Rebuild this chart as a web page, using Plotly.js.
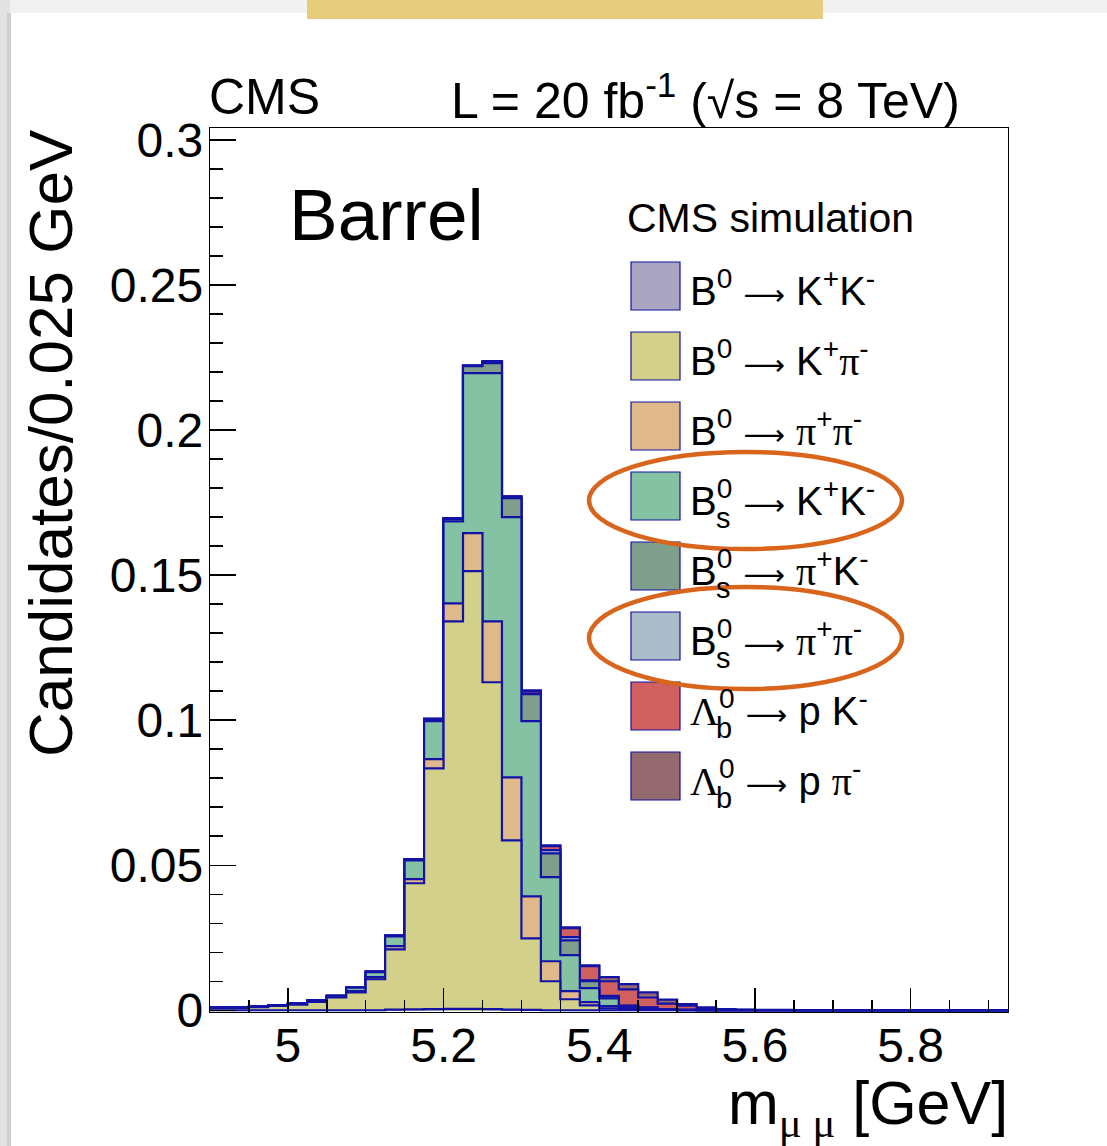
<!DOCTYPE html>
<html>
<head>
<meta charset="utf-8">
<script src="https://cdn.plot.ly/plotly-3.0.1.min.js"></script>
<style>
html,body{margin:0;padding:0;background:#fff;}
#chart{width:1107px;height:1146px;}
</style>
</head>
<body>
<div id="chart"></div>
<script>
// ---------------- DATA ----------------
// bin left edges: 4.900 ... 5.900 (41 bins of 0.025 GeV)
const binStart = 4.9;
const binWidth = 0.025;
const nBins = 41;

const SER = "<span style='font-family:Liberation Serif'>";
const ARR = "<span style='font-family:DejaVu Sans;font-size:29px'>⟶</span>";
const seriesNames = [
  "B<sup>0</sup> " + ARR + " K<sup>+</sup>K<sup>-</sup>",
  "B<sup>0</sup> " + ARR + " K<sup>+</sup>" + SER + "π</span><sup>-</sup>",
  "B<sup>0</sup> " + ARR + " " + SER + "π</span><sup>+</sup>" + SER + "π</span><sup>-</sup>",
  "B<sup>0</sup> " + ARR + " K<sup>+</sup>K<sup>-</sup>",
  "B<sup>0</sup> " + ARR + " " + SER + "π</span><sup>+</sup>K<sup>-</sup>",
  "B<sup>0</sup> " + ARR + " " + SER + "π</span><sup>+</sup>" + SER + "π</span><sup>-</sup>",
  SER + "Λ</span><sup>0</sup> " + ARR + " p K<sup>-</sup>",
  SER + "Λ</span><sup>0</sup> " + ARR + " p " + SER + "π</span><sup>-</sup>"
];
const seriesSubs = ["", "", "", "s", "s", "s", "b", "b"];

const b0KK   = [0,0,0,0,0,0,0,0,0,.0002,.0003,.0004,.0005,.0005,.0004,.0002,.0001,0,0,0,0,0,0,0,0,0,0,0,0,0,0,0,0,0,0,0,0,0,0,0,0];
const b0Kpi  = [.0008,.0008,.0011,.0015,.0019,.0029,.0044,.0062,.0107,.0208,.0435,.0830,.1336,.1509,.1127,.0584,.0247,.0100,.0038,.0017,.0007,.0004,.0002,.0001,0,0,0,0,0,0,0,0,0,0,0,0,0,0,0,0,0];
const b0pipi = [0,0,0,0,0,0,0,.0004,.0007,.0011,.0014,.0032,.0062,.0131,.0210,.0217,.0145,.0069,.0028,.0011,.0007,.0004,.0002,.0001,0,0,0,0,0,0,0,0,0,0,0,0,0,0,0,0,0];
const bsKK   = [.0001,.0001,.0002,.0003,.0004,.0005,.0006,.0012,.0017,.0034,.0065,.0131,.0283,.0552,.0856,.0897,.0604,.0290,.0124,.0048,.0027,.0005,.0004,.0001,.0001,0,0,0,0,0,0,0,0,0,0,0,0,0,0,0,0];
const bspiK  = [0,0,0,0,0,0,0,0,.0002,.0002,.0004,.0006,.0008,.0024,.0034,.0066,.0093,.0082,.0051,.0024,.0007,.0002,.0001,0,0,0,0,0,0,0,0,0,0,0,0,0,0,0,0,0,0];
const bspipi = [0,0,0,0,0,0,0,0,0,0,0,.0002,.0003,.0002,.0004,.0002,.0002,.0011,.0011,.0003,.0002,.0001,0,0,0,0,0,0,0,0,0,0,0,0,0,0,0,0,0,0,0];
const lbpK   = [0,0,0,0,0,0,0,0,0,0,0,0,0,0,.0002,.0004,.0008,.0014,.0031,.0049,.0050,.0056,.0035,.0020,.0015,.0007,.0003,.0001,0,0,0,0,0,0,0,0,0,0,0,0,0];
const lbppi  = [0,0,0,0,0,0,0,0,0,0,0,0,0,0,.0001,0,.0003,.0003,.0003,.0003,.0014,.0018,.0018,.0014,.0005,.0003,.0001,.0001,.0001,.0001,0,0,0,0,0,0,0,0,0,0,0];

const xTickVals = [5.0, 5.2, 5.4, 5.6, 5.8];
const xTickText = ["5", "5.2", "5.4", "5.6", "5.8"];
const yTickVals = [0, 0.05, 0.1, 0.15, 0.2, 0.25, 0.3];
const yTickText = ["0", "0.05", "0.1", "0.15", "0.2", "0.25", "0.3"];

// ---------------- STYLE ----------------
const fillColors = ["#a9a5c3","#d3d08a","#e0b98a","#85c2a4","#7f9f8c","#a9bcc8","#d05f5f","#946a70"];
const outline = "rgb(18,18,165)";
const FONT = "Liberation Sans, Arial, Helvetica, sans-serif";

const series = [b0KK, b0Kpi, b0pipi, bsKK, bspiK, bspipi, lbpK, lbppi];

// plot-area pixel geometry
const W = 1107, H = 1146;
const L = 210, R = 1008, T = 128, B = 1012;
const px = x => (x - L) / (R - L);
const py = y => (B - y) / (B - T);

// ---------------- TRACES (ROOT-style stack: draw top cumulative first) ----------------
const edges = [];
for (let i = 0; i <= nBins; i++) edges.push(+(binStart + i * binWidth).toFixed(4));

const cum = [];
let run = new Array(nBins).fill(0);
series.forEach((s) => {
  run = run.map((v, i) => v + s[i]);
  cum.push(run.slice());
});

const traces = [];
for (let k = series.length - 1; k >= 0; k--) {
  const yv = cum[k].concat([cum[k][nBins - 1]]);
  traces.push({
    type: "scatter", mode: "lines",
    x: edges, y: yv,
    line: {shape: "hv", color: outline, width: 2.2},
    fill: "tozeroy", fillcolor: fillColors[k],
    hoverinfo: "skip", showlegend: false
  });
}

// ---------------- SHAPES & ANNOTATIONS ----------------
const shapes = [];
const annotations = [];

// slide background / frame shading
shapes.push({type:"rect", xref:"paper", yref:"paper", x0:px(0), x1:px(W), y0:py(0), y1:py(13), fillcolor:"#f1f1f1", line:{width:0}, layer:"below"});
shapes.push({type:"rect", xref:"paper", yref:"paper", x0:px(0), x1:px(10), y0:py(0), y1:py(H), fillcolor:"#e2e2e2", line:{width:0}, layer:"below"});
shapes.push({type:"rect", xref:"paper", yref:"paper", x0:px(7), x1:px(11), y0:py(13), y1:py(H), fillcolor:"#d0d0d0", line:{width:0}, layer:"below"});
shapes.push({type:"rect", xref:"paper", yref:"paper", x0:px(307), x1:px(823), y0:py(0), y1:py(19), fillcolor:"#e6cd7e", line:{width:0}});

// legend boxes
for (let k = 0; k < 8; k++) {
  const top = 262 + 70 * k;
  shapes.push({type:"rect", xref:"paper", yref:"paper",
    x0:px(631), x1:px(680), y0:py(top), y1:py(top + 48),
    fillcolor: fillColors[k], line:{color: outline, width:1.2}});
  annotations.push({xref:"paper", yref:"paper", x:px(688), y:py(top + 26),
    xanchor:"left", yanchor:"middle", showarrow:false,
    text: seriesNames[k], font:{family:FONT, size:40, color:"#000"}});
  if (seriesSubs[k]) {
    annotations.push({xref:"paper", yref:"paper", x:px(714), y:py(top + 46),
      xanchor:"left", yanchor:"middle", showarrow:false,
      text: seriesSubs[k], font:{family:FONT, size:29, color:"#000"}});
  }
}

// orange hand-drawn ellipses
shapes.push({type:"circle", xref:"paper", yref:"paper", x0:px(589), x1:px(902), y0:py(452), y1:py(549), line:{color:"#d8651b", width:4.5}});
shapes.push({type:"circle", xref:"paper", yref:"paper", x0:px(589), x1:px(902), y0:py(587), y1:py(689), line:{color:"#d8651b", width:4.5}});

// texts
annotations.push({xref:"paper", yref:"paper", x:px(207), y:py(97), xanchor:"left", yanchor:"middle", showarrow:false,
  text:"CMS", font:{family:FONT, size:50, color:"#000"}});
annotations.push({xref:"paper", yref:"paper", x:px(962), y:py(97), xanchor:"right", yanchor:"middle", showarrow:false,
  text:"L = 20 fb<sup>-1</sup> (√s = 8 TeV)", font:{family:FONT, size:50, color:"#000"}});
annotations.push({xref:"paper", yref:"paper", x:px(287), y:py(214), xanchor:"left", yanchor:"middle", showarrow:false,
  text:"Barrel", font:{family:FONT, size:73, color:"#000"}});
annotations.push({xref:"paper", yref:"paper", x:px(625), y:py(218), xanchor:"left", yanchor:"middle", showarrow:false,
  text:"CMS simulation", font:{family:FONT, size:41, color:"#000"}});
annotations.push({xref:"paper", yref:"paper", x:px(51), y:py(443), xanchor:"center", yanchor:"middle", showarrow:false,
  textangle:-90, text:"Candidates/0.025 GeV", font:{family:FONT, size:62, color:"#000"}});
annotations.push({xref:"paper", yref:"paper", x:px(1010), y:py(1107), xanchor:"right", yanchor:"middle", showarrow:false,
  text:"m<sub>" + SER + "μ μ</span></sub> [GeV]", font:{family:FONT, size:61, color:"#000"}});

const layout = {
  width: W, height: H,
  margin: {l: L, r: W - R, t: T, b: H - B, pad: 0},
  paper_bgcolor: "#ffffff", plot_bgcolor: "rgba(0,0,0,0)",
  showlegend: false,
  xaxis: {
    range: [4.9, 5.925], showgrid: false, zeroline: false,
    showline: true, linecolor: "#000", linewidth: 1.2, mirror: true,
    tickmode: "array", tickvals: xTickVals, ticktext: xTickText,
    ticks: "inside", ticklen: 24, tickwidth: 1.5, tickcolor: "#000",
    minor: {dtick: 0.05, tick0: 4.9, ticks: "inside", ticklen: 12, tickwidth: 1.5, tickcolor: "#000", showgrid: false},
    tickfont: {family: FONT, size: 48, color: "#000"},
    ticklabelstandoff: -9, layer: "above traces"
  },
  yaxis: {
    range: [-0.0006, 0.3042], showgrid: false, zeroline: false,
    showline: true, linecolor: "#000", linewidth: 1.2, mirror: true,
    tickmode: "array", tickvals: yTickVals, ticktext: yTickText,
    ticks: "inside", ticklen: 26, tickwidth: 1.5, tickcolor: "#000",
    minor: {dtick: 0.01, tick0: 0, ticks: "inside", ticklen: 13, tickwidth: 1.5, tickcolor: "#000", showgrid: false},
    tickfont: {family: FONT, size: 48, color: "#000"},
    ticklabelstandoff: -4, layer: "above traces"
  },
  shapes: shapes,
  annotations: annotations
};

Plotly.newPlot("chart", traces, layout, {staticPlot: true, displayModeBar: false});
</script>
</body>
</html>
